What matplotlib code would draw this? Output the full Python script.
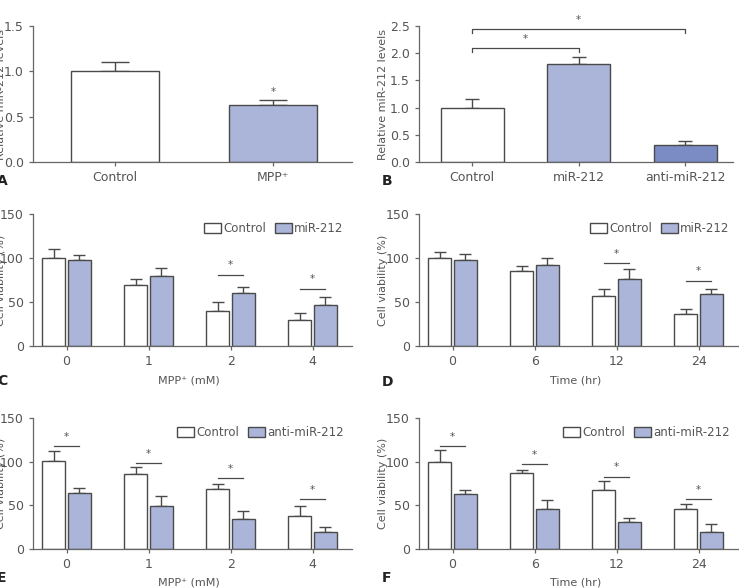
import numpy as np
import matplotlib.pyplot as plt
from matplotlib.patches import Patch

plt.rcParams['font.family'] = ['Liberation Sans Narrow', 'DejaVu Sans']

# Panel A
a_labels = ['Control', 'MPP\u207a']
a_vals = [1.0, 0.63]
a_err = [0.10, 0.05]

# Panel B
b_labels = ['Control', 'miR-212', 'anti-miR-212']
b_vals = [1.0, 1.80, 0.32]
b_err = [0.15, 0.13, 0.06]

# Panels C-F
mpp_ticks = ['0', '1', '2', '4']
time_ticks = ['0', '6', '12', '24']

c_ctrl = [100, 69, 40, 29]
c_ctrl_err = [10, 7, 10, 8]
c_mir = [98, 80, 60, 47]
c_mir_err = [5, 9, 7, 9]
c_sig = [None, None, 81, 65]

d_ctrl = [100, 85, 57, 36]
d_ctrl_err = [7, 6, 8, 6]
d_mir = [98, 92, 76, 59]
d_mir_err = [6, 8, 11, 6]
d_sig = [None, None, 94, 74]

e_ctrl = [101, 86, 69, 38]
e_ctrl_err = [11, 8, 6, 11]
e_anti = [64, 49, 34, 20]
e_anti_err = [6, 12, 10, 5]
e_sig = [118, 98, 81, 57]

f_ctrl = [100, 87, 68, 46]
f_ctrl_err = [13, 4, 10, 6]
f_anti = [63, 46, 31, 19]
f_anti_err = [5, 10, 4, 10]
f_sig = [118, 97, 83, 57]

WHITE = '#ffffff'
LIGHT = '#aab5d9'
DARK = '#7b8cc4'
EDGE = '#4a4a4a'
GREY = '#555555'

fig = plt.figure(figsize=(7.39, 5.88), dpi=100)


def style(ax):
    for s in ['top', 'right']:
        ax.spines[s].set_visible(False)
    for s in ['left', 'bottom']:
        ax.spines[s].set_color('#666666')
        ax.spines[s].set_linewidth(0.9)
    ax.tick_params(colors='#666666', labelcolor=GREY, labelsize=9, width=0.9, length=3)


def simple_bars(ax, labels, vals, err, colors, width, cap):
    x = np.arange(len(vals))
    ax.bar(x, vals, width, color=colors, edgecolor=EDGE, linewidth=1.0, zorder=2)
    ax.errorbar(x, vals, yerr=[np.zeros(len(vals)), err], fmt='none',
                ecolor=EDGE, elinewidth=1.0, capsize=cap, capthick=1.0, zorder=1)
    ax.set_xticks(x)
    ax.set_xticklabels(labels)
    return x


def grouped(ax, ticks, ctrl, ctrl_err, trt, trt_err, sig, trt_name):
    x = np.arange(len(ticks))
    w = 0.28
    off = 0.155
    ax.bar(x - off, ctrl, w, color=WHITE, edgecolor=EDGE, linewidth=1.0, zorder=2)
    ax.bar(x + off, trt, w, color=LIGHT, edgecolor=EDGE, linewidth=1.0, zorder=2)
    ax.errorbar(x - off, ctrl, yerr=[np.zeros(len(x)), ctrl_err], fmt='none',
                ecolor=EDGE, elinewidth=1.0, capsize=4, capthick=1.0, zorder=1)
    ax.errorbar(x + off, trt, yerr=[np.zeros(len(x)), trt_err], fmt='none',
                ecolor=EDGE, elinewidth=1.0, capsize=4, capthick=1.0, zorder=1)
    for xi, h in zip(x, sig):
        if h is None:
            continue
        ax.plot([xi - off, xi + off], [h, h], color=EDGE, lw=0.9)
        ax.text(xi, h + 5, '*', ha='center', va='bottom', fontsize=7.5, color=GREY)
    ax.set_xticks(x)
    ax.set_xticklabels(ticks)
    ax.set_xlim(-0.41, 3.48)
    ax.set_ylim(0, 150)
    ax.set_yticks([0, 50, 100, 150])
    handles = [Patch(facecolor=WHITE, edgecolor=EDGE), Patch(facecolor=LIGHT, edgecolor=EDGE)]
    leg = ax.legend(handles, ['Control', trt_name], ncol=2, frameon=False,
                    loc='upper right', bbox_to_anchor=(1.0, 1.0), fontsize=8.5,
                    handlelength=1.4, handleheight=0.9, handletextpad=0.2,
                    columnspacing=0.8, borderaxespad=0.3)
    for t in leg.get_texts():
        t.set_color(GREY)


W = 739.0
H = 588.0


def axes_px(left, right, top, bottom):
    return fig.add_axes([left / W, 1 - bottom / H, (right - left) / W, (bottom - top) / H])


# A
axA = axes_px(33, 352, 26, 162)
style(axA)
simple_bars(axA, a_labels, a_vals, a_err, [WHITE, LIGHT], 0.56, 10)
axA.set_xlim(-0.52, 1.5)
axA.set_ylim(0, 1.5)
axA.set_yticks([0, 0.5, 1.0, 1.5])
axA.set_yticklabels(['0.0', '0.5', '1.0', '1.5'])
axA.text(1, 0.72, '*', ha='center', va='bottom', fontsize=7.5, color=GREY)
axA.set_ylabel('Relative miR-212 levels', fontsize=8, color=GREY)
axA.yaxis.set_label_coords(-0.086, 0.5)

# B
axB = axes_px(419, 733, 26, 162)
style(axB)
simple_bars(axB, b_labels, b_vals, b_err, [WHITE, LIGHT, DARK], 0.59, 5)
axB.set_xlim(-0.5, 2.45)
axB.set_ylim(0, 2.5)
axB.set_yticks([0, 0.5, 1.0, 1.5, 2.0, 2.5])
axB.set_yticklabels(['0.0', '0.5', '1.0', '1.5', '2.0', '2.5'])
for x0, x1, h in [(0, 1, 2.1), (0, 2, 2.45)]:
    axB.plot([x0, x0, x1, x1], [h - 0.07, h, h, h - 0.07], color=EDGE, lw=0.9, clip_on=False)
    axB.text((x0 + x1) / 2, h + 0.06, '*', ha='center', va='bottom', fontsize=7.5, color=GREY)
axB.set_ylabel('Relative miR-212 levels', fontsize=8, color=GREY)
axB.yaxis.set_label_coords(-0.099, 0.5)

# C
axC = axes_px(33, 352, 214, 346)
style(axC)
grouped(axC, mpp_ticks, c_ctrl, c_ctrl_err, c_mir, c_mir_err, c_sig, 'miR-212')
axC.set_ylabel('Cell viability (%)', fontsize=8, color=GREY)
axC.yaxis.set_label_coords(-0.086, 0.5)
axC.set_xlabel('MPP\u207a (mM)', fontsize=8, color=GREY)
axC.xaxis.set_label_coords(0.49, -0.22)

# D
axD = axes_px(419, 738, 214, 346)
style(axD)
grouped(axD, time_ticks, d_ctrl, d_ctrl_err, d_mir, d_mir_err, d_sig, 'miR-212')
axD.set_ylabel('Cell viability (%)', fontsize=8, color=GREY)
axD.yaxis.set_label_coords(-0.097, 0.5)
axD.set_xlabel('Time (hr)', fontsize=8, color=GREY)
axD.xaxis.set_label_coords(0.49, -0.22)

# E
axE = axes_px(33, 352, 418, 549)
style(axE)
grouped(axE, mpp_ticks, e_ctrl, e_ctrl_err, e_anti, e_anti_err, e_sig, 'anti-miR-212')
axE.set_ylabel('Cell viability (%)', fontsize=8, color=GREY)
axE.yaxis.set_label_coords(-0.086, 0.5)
axE.set_xlabel('MPP\u207a (mM)', fontsize=8, color=GREY)
axE.xaxis.set_label_coords(0.49, -0.22)

# F
axF = axes_px(419, 738, 418, 549)
style(axF)
grouped(axF, time_ticks, f_ctrl, f_ctrl_err, f_anti, f_anti_err, f_sig, 'anti-miR-212')
axF.set_ylabel('Cell viability (%)', fontsize=8, color=GREY)
axF.yaxis.set_label_coords(-0.097, 0.5)
axF.set_xlabel('Time (hr)', fontsize=8, color=GREY)
axF.xaxis.set_label_coords(0.49, -0.22)

# panel letters
for letter, px, py in [('A', -3, 181), ('B', 382, 181), ('C', -3, 381),
                       ('D', 382, 382), ('E', -3, 578), ('F', 382, 578)]:
    fig.text(px / W, 1 - py / H, letter, fontsize=10, fontweight='bold',
             ha='left', va='center', color='#222222')

fig.savefig('out.png', dpi=100)
